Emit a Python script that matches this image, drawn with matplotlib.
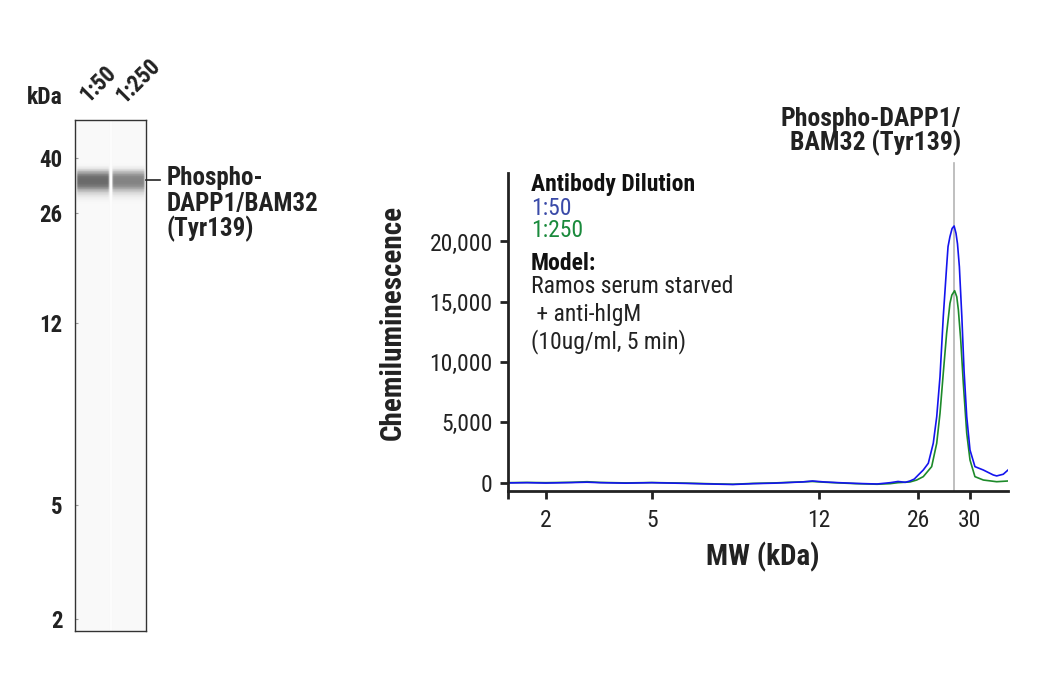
import numpy as np
import matplotlib
matplotlib.use('Agg')
import matplotlib.pyplot as plt
from matplotlib.lines import Line2D

plt.rcParams['font.family'] = ['Roboto Condensed', 'DejaVu Sans']

# --- data ---
# electropherogram traces: MW (kDa) vs chemiluminescence
mw_blue = [1.44, 1.7, 2.0, 2.5, 2.86, 3.2, 4.0, 5.0, 6.0, 7.0, 7.65, 8.5, 9.5, 10.5, 11.0,
           11.6, 12.5, 14.0, 16.0, 18.85, 20.9, 22.2, 23.5, 24.37, 25.2, 26.0, 26.36, 26.73,
           27.1, 27.36, 27.61, 27.86, 28.12, 28.23, 28.38, 28.55, 28.71, 28.86, 28.98, 29.13,
           29.33, 29.51, 29.73, 30.0, 30.41, 31.12, 31.98, 32.28, 32.87, 33.3]
sig_blue = [-20, 0, -30, 10, 40, 0, -40, 0, -60, -120, -150, -80, -40, 30, 60,
            140, 60, 0, -60, -110, 0, 100, 30, 140, 300, 640, 1050, 1610,
            3270, 5470, 8790, 13760, 17910, 19570, 20400, 21080, 21285, 20680, 19800, 17910,
            13760, 9290, 5470, 2710, 1330, 1050, 640, 560, 700, 1050]

mw_green = [1.44, 1.7, 2.0, 2.5, 2.86, 3.2, 4.0, 5.0, 6.0, 7.0, 7.65, 8.5, 9.5, 10.5,
            11.6, 12.5, 14.0, 16.0, 18.85, 20.9, 22.2, 24.37, 25.68, 26.36, 26.98, 27.36,
            27.61, 27.86, 28.12, 28.38, 28.53, 28.75, 28.92, 29.05, 29.24, 29.45, 29.73,
            30.0, 30.41, 31.12, 32.28, 33.3]
sig_green = [0, 20, 0, 30, 80, 20, -20, 10, -40, -100, -130, -60, -20, 40,
             100, 40, -20, -80, -130, -80, 0, 60, 220, 500, 1330, 3270,
             5750, 9070, 12380, 14870, 15560, 15920, 15420, 14320, 11830, 8240, 4100,
             1880, 500, 220, 80, 140]

peak_mw = 28.71
x_ticks = [2, 5, 12, 26, 30]
y_ticks = [0, 5000, 10000, 15000, 20000]

# blot (virtual lane view)
lane_labels = ['1:50', '1:250']
band_mw = 33.5
band_darkness = [0.56, 0.46]
blot_ticks = [2, 5, 12, 26, 40]

W, H = 1040, 700
fig = plt.figure(figsize=(W / 100, H / 100), dpi=100)


def fx(x):
    return x / W


def fy(y):
    return 1 - y / H


# --- electropherogram ---
ax = fig.add_axes([fx(508), fy(491), 500 / W, 318 / H])

# Jess-style MW axis: piecewise log scale
x_anchor_mw = np.array([1.0, 1.44, 2, 5, 12, 26, 30, 33.3, 60])
x_anchor_pos = np.array([466, 508, 545.7, 651.7, 819, 918.3, 970, 1008, 1222])
x_anchor_log = np.log10(x_anchor_mw)


def x_fwd(v):
    return np.interp(np.log10(np.clip(v, 1e-3, None)), x_anchor_log, x_anchor_pos)


def x_inv(p):
    return 10 ** np.interp(p, x_anchor_pos, x_anchor_log)


ax.set_xscale('function', functions=(x_fwd, x_inv))

ax.plot(mw_green, sig_green, color='#1d8a2a', lw=1.2)
ax.plot(mw_blue, sig_blue, color='#1414ee', lw=1.2)
ax.axvline(peak_mw, ymin=0, ymax=1 + 10 / 318, color='#b4b4b4', lw=1.2, clip_on=False, zorder=0)

ax.set_xlim(1.44, 33.3)
ax.set_ylim(-690, 25680)
ax.set_xticks(x_ticks)
ax.set_xticklabels([str(t) for t in x_ticks])
ax.set_xticks([1.44], minor=True)
ax.set_yticks(y_ticks)
ax.set_yticklabels([f'{t:,}' for t in y_ticks])
for s in ['top', 'right']:
    ax.spines[s].set_visible(False)
for s in ['left', 'bottom']:
    ax.spines[s].set_linewidth(2)
    ax.spines[s].set_color('#222222')
ax.tick_params(which='both', direction='out', length=6, width=2, color='#222222',
               labelsize=17, labelcolor='#222222', pad=5)
ax.tick_params(axis='x', pad=7)

fig.text(fx(393), fy(322), 'Chemiluminescence', rotation=90, ha='center', va='center',
         fontsize=21, fontweight='bold', color='#222222')
fig.text(fx(763), fy(557), 'MW (kDa)', ha='center', va='center',
         fontsize=21, fontweight='bold', color='#222222')
fig.text(fx(961), fy(126), 'Phospho-DAPP1/', ha='right', va='baseline',
         fontsize=18.5, fontweight='bold', color='#222222')
fig.text(fx(961), fy(150), 'BAM32 (Tyr139)', ha='right', va='baseline',
         fontsize=18.5, fontweight='bold', color='#222222')

notes = [
    ('Antibody Dilution', 191, '#111111', 'bold'),
    (lane_labels[0], 215, '#3a4aa8', 'normal'),
    (lane_labels[1], 237, '#1a8a3c', 'normal'),
    ('Model:', 270, '#111111', 'bold'),
    ('Ramos serum starved', 293, '#222222', 'normal'),
    (' + anti-hIgM', 321, '#222222', 'normal'),
    ('(10ug/ml, 5 min)', 348, '#222222', 'normal'),
]
for txt, yb, col, wt in notes:
    fig.text(fx(531), fy(yb), txt, ha='left', va='baseline', fontsize=17,
             fontweight=wt, color=col)

# --- blot ---
bx = fig.add_axes([fx(75), fy(631), 71 / W, 511 / H])
y_anchor_mw = np.array([1.0, 1.82, 2, 5, 12, 26, 40, 53.8, 100])
y_anchor_pos = -np.array([705, 631, 619, 505, 323, 213, 158, 120, 41])
y_anchor_log = np.log10(y_anchor_mw)


def y_fwd(v):
    return np.interp(np.log10(np.clip(v, 1e-3, None)), y_anchor_log, y_anchor_pos)


def y_inv(p):
    return 10 ** np.interp(p, y_anchor_pos, y_anchor_log)


bx.set_yscale('function', functions=(y_fwd, y_inv))

xe = np.linspace(0, 2, 143)
ye = np.geomspace(1.82, 53.8, 600)
xc = 0.5 * (xe[1:] + xe[:-1])
yc = 0.5 * (ye[1:] + ye[:-1])
X, Y = np.meshgrid(xc, yc)
lane_idx = np.clip(np.floor(X).astype(int), 0, 1)
u = X - lane_idx
lane_w = 1 / (1 + np.exp(-(u - 0.05) / 0.012)) * 1 / (1 + np.exp((u - 0.95) / 0.012))
d = np.log10(Y) - np.log10(band_mw)
band = np.exp(-(np.abs(d) / 0.034) ** 3) + 0.12 * np.exp(-((d + 0.045) / 0.02) ** 2)
dark = np.array(band_darkness)[lane_idx]
Z = 0.968 + 0.008 * lane_w - dark * band * lane_w
Z[(u < 0.03) | (u > 0.97)] = 0.985
bx.pcolormesh(xe, ye, Z, cmap='gray', vmin=0, vmax=1, shading='flat')
bx.set_xlim(0, 2)
bx.set_ylim(1.82, 53.8)
bx.set_xticks([])
bx.set_yticks(blot_ticks)
bx.set_yticklabels([str(t) for t in blot_ticks], fontweight='bold', fontsize=16.5,
                   color='#222222')
bx.tick_params(axis='y', direction='in', length=2.5, width=0.8, color='#9a9a9a', pad=9)
for s in bx.spines.values():
    s.set_linewidth(1.0)
    s.set_color('#333333')

fig.text(fx(45), fy(98), 'kDa', ha='center', va='center', fontsize=17,
         fontweight='bold', color='#222222')
for lab, x0, y0 in zip(lane_labels, [88, 124], [103, 104]):
    fig.text(fx(x0), fy(y0), lab, rotation=45, rotation_mode='anchor', ha='left',
             va='baseline', fontsize=16.5, fontweight='bold', color='#222222')
fig.add_artist(Line2D([fx(146), fx(160)], [fy(180), fy(180)], color='#222222', lw=1.2))
for txt, yb in zip(['Phospho-', 'DAPP1/BAM32', '(Tyr139)'], [185, 211, 236]):
    fig.text(fx(167), fy(yb), txt, ha='left', va='baseline', fontsize=18,
             fontweight='bold', color='#222222')

fig.savefig('out.png', dpi=100)
